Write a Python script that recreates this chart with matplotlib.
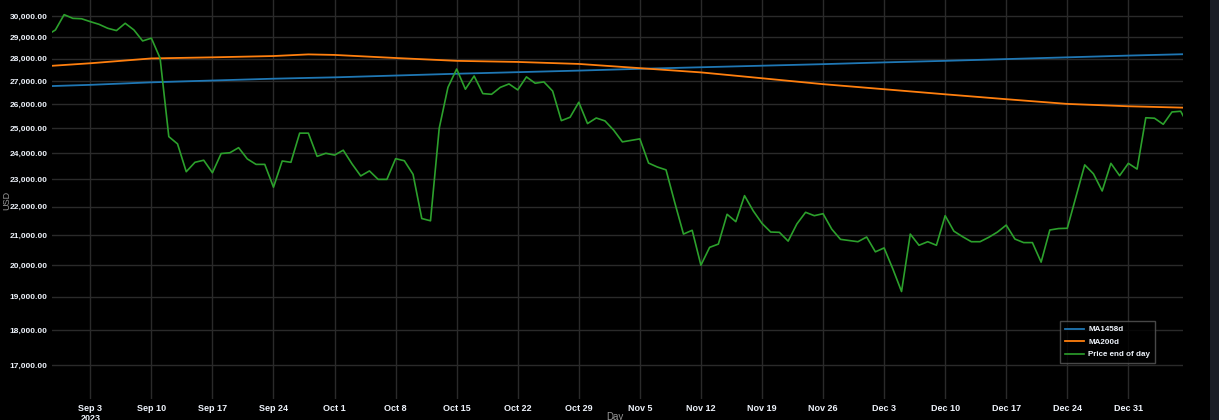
import numpy as np
import matplotlib
matplotlib.use("Agg")
import matplotlib.pyplot as plt
import matplotlib.dates as mdates
from matplotlib.ticker import FixedLocator, NullLocator
from matplotlib.patches import Rectangle

# ---------------- data ----------------
price_start = "2023-08-29"
price = [
    29080, 29340, 30080,                                   # Aug 29-31
    29900, 29880, 29740, 29610, 29420, 29310, 29660, 29340, 28820, 28950,
    28020, 24660, 24370, 23290, 23650, 23730, 23250, 23990, 24020, 24220,
    23780, 23570, 23570, 22710, 23700, 23650, 24800, 24800, 23880, 24000,  # Sep
    23930, 24120, 23590, 23130, 23320, 23000, 23000, 23790, 23710, 23190,
    21580, 21500, 25000, 26720, 27530, 26640, 27220, 26450, 26420, 26720,
    26870, 26610, 27180, 26900, 26960, 26560, 25310, 25450, 26080, 25190,
    25420,                                                  # Oct
    25300, 24920, 24450, 24510, 24570, 23620, 23470, 23360, 22150, 21040,
    21170, 20000, 20590, 20700, 21730, 21470, 22400, 21850, 21410, 21110,
    21100, 20800, 21390, 21800, 21680, 21750, 21210, 20860, 20820, 20780,  # Nov
    20940, 20440, 20570, 19880, 19160, 21040, 20660, 20780, 20660, 21680,
    21140, 20950, 20780, 20780, 20930, 21110, 21350, 20870, 20750, 20750,
    20100, 21180, 21230, 21240, 22360, 23550, 23210, 22570, 23610, 23140,
    23610,                                                  # Dec
    23390, 25430, 25410, 25160, 25670, 25700, 25040,        # Jan 1-7
]

ma_dates = ["2023-08-29", "2023-09-03", "2023-09-10", "2023-09-17", "2023-09-24",
            "2023-09-28", "2023-10-01", "2023-10-08", "2023-10-15", "2023-10-22",
            "2023-10-29", "2023-11-05", "2023-11-12", "2023-11-19", "2023-11-26",
            "2023-12-03", "2023-12-10", "2023-12-17", "2023-12-24", "2023-12-31",
            "2024-01-07"]
ma1458 = [26770, 26830, 26940, 27020, 27100, 27135, 27160, 27240, 27320, 27390,
          27460, 27540, 27610, 27680, 27750, 27830, 27900, 27980, 28060, 28140,
          28210]
ma200 = [27660, 27790, 28010, 28060, 28120, 28195, 28170, 28030, 27900, 27850,
         27760, 27570, 27380, 27120, 26860, 26640, 26420, 26210, 26010, 25910,
         25845]

y_ticks = [17000, 18000, 19000, 20000, 21000, 22000, 23000, 24000, 25000,
           26000, 27000, 28000, 29000, 30000]
x_ticks = ["2023-09-03", "2023-09-10", "2023-09-17", "2023-09-24", "2023-10-01",
           "2023-10-08", "2023-10-15", "2023-10-22", "2023-10-29", "2023-11-05",
           "2023-11-12", "2023-11-19", "2023-11-26", "2023-12-03", "2023-12-10",
           "2023-12-17", "2023-12-24", "2023-12-31"]
x_tick_labels = ["Sep 3\n2023", "Sep 10", "Sep 17", "Sep 24", "Oct 1", "Oct 8",
                 "Oct 15", "Oct 22", "Oct 29", "Nov 5", "Nov 12", "Nov 19",
                 "Nov 26", "Dec 3", "Dec 10", "Dec 17", "Dec 24", "Dec 31"]
series_names = ["MA1458d", "MA200d", "Price end of day"]

# ---------------- style ----------------
FONT = ["Liberation Sans Narrow", "Liberation Sans", "DejaVu Sans"]
plt.rcParams["font.family"] = FONT
BG = "#000000"
GRID = "#2a2a2a"
TXT = "#eef3fb"
C_BLUE, C_ORANGE, C_GREEN = "#1f77b4", "#ff7f0e", "#2ca02c"

W, H = 1219, 420
fig = plt.figure(figsize=(W / 100, H / 100), dpi=100, facecolor=BG)
L, R, B, T = 51.7, 1183.3, 399, 0
ax = fig.add_axes([L / W, (H - B) / H, (R - L) / W, (B - T) / H])
ax.set_facecolor(BG)

p_dates = np.arange(np.datetime64(price_start), np.datetime64(price_start) + len(price),
                    np.timedelta64(1, "D"))
m_dates = np.array(ma_dates, dtype="datetime64[D]")

ax.plot(m_dates, ma1458, color=C_BLUE, lw=1.3, label=series_names[0], zorder=3)
ax.plot(m_dates, ma200, color=C_ORANGE, lw=1.3, label=series_names[1], zorder=3)
ax.plot(p_dates, price, color=C_GREEN, lw=1.2, label=series_names[2], zorder=4)

ax.set_yscale("log")
ax.set_ylim(16083, 30807)
ax.yaxis.set_major_locator(FixedLocator(y_ticks))
ax.yaxis.set_minor_locator(NullLocator())
ax.set_yticklabels([f"{v:,.2f}" for v in y_ticks])

x0 = np.datetime64("2023-09-03T00:00") - np.timedelta64(int(4.425 * 1440), "m")
x1 = np.datetime64("2023-09-03T00:00") + np.timedelta64(int(125.3 * 1440), "m")
ax.set_xlim(mdates.date2num(x0), mdates.date2num(x1))
ax.set_xticks(mdates.date2num(np.array(x_ticks, dtype="datetime64[D]")))
ax.set_xticklabels(x_tick_labels)
ax.xaxis.set_minor_locator(NullLocator())

for s in ax.spines.values():
    s.set_visible(False)
ax.grid(True, color=GRID, lw=1.0, zorder=0)
ax.set_axisbelow(True)
ax.tick_params(axis="both", length=0, colors=TXT)
ax.tick_params(axis="y", pad=3.0, labelsize=6.0)
ax.tick_params(axis="x", pad=3.5, labelsize=6.5)
for lab in ax.get_xticklabels() + ax.get_yticklabels():
    lab.set_fontweight("bold")
    lab.set_linespacing(1.15)

fig.text(7 / W, 1 - 200 / H, "USD", rotation=90, color="#9a9a9a", fontsize=6.5,
         ha="center", va="center")
fig.text(615 / W, 1 - 412 / H, "Day", color="#9a9a9a", fontsize=7,
         ha="center", va="top")

leg = ax.legend(loc="upper left", bbox_to_anchor=(1060 / W, 1 - 321 / H),
                bbox_transform=fig.transFigure, frameon=True, fancybox=False,
                facecolor=BG, edgecolor="#5a5a5a", fontsize=5.8,
                handlelength=2.4, handletextpad=0.5, labelspacing=0.6,
                borderpad=0.6, borderaxespad=0)
leg.get_frame().set_linewidth(1.0)
for t in leg.get_texts():
    t.set_color(TXT)
    t.set_fontweight("bold")

fig.patches.append(Rectangle((1210 / W, 0), 9 / W, 1, transform=fig.transFigure,
                             facecolor="#1b1d25", edgecolor="none", zorder=0))

fig.savefig("out.png", dpi=100, facecolor=BG)
